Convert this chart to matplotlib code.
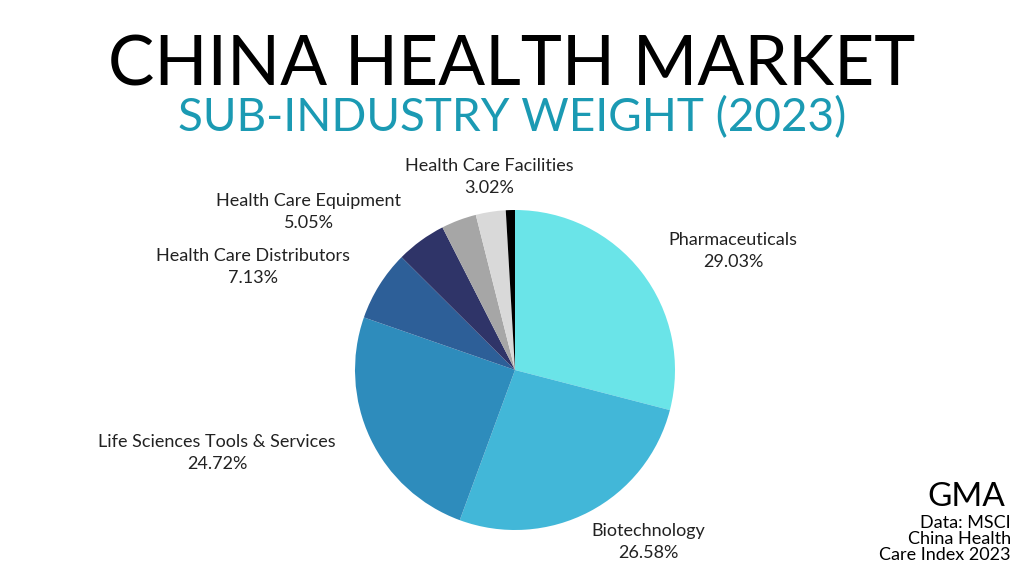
import matplotlib.pyplot as plt

labels = ["Pharmaceuticals", "Biotechnology", "Life Sciences Tools & Services",
          "Health Care Distributors", "Health Care Equipment", "Other",
          "Health Care Facilities", "Other 2"]
values = [29.03, 26.58, 24.72, 7.13, 5.05, 3.55, 3.02, 0.92]
colors = ["#6ae4e8", "#42b7d8", "#2e8cbc", "#2d5f98", "#2f3468",
          "#a6a6a6", "#d9d9d9", "#000000"]
show_label = [True, True, True, True, True, False, True, False]

fig = plt.figure(figsize=(10.24, 5.76), dpi=100)
fig.patch.set_facecolor("white")

fig.text(0.5, 0.885, "CHINA HEALTH MARKET", ha="center", va="center",
         fontsize=50, family="Lato", fontweight="normal", color="black")
fig.text(0.5, 0.795, "SUB-INDUSTRY WEIGHT (2023)", ha="center", va="center",
         fontsize=33, family="Lato", color="#1b9ab3")

# pie center ~ (515, 370) px, radius ~160 px
ax = fig.add_axes([(515 - 160) / 1024, (576 - 370 - 160) / 576,
                   320 / 1024, 320 / 576])
ax.pie(values, colors=colors, startangle=90, counterclock=False,
       wedgeprops=dict(linewidth=0))
ax.set_xlim(-1, 1)
ax.set_ylim(-1, 1)
ax.set_aspect("equal")

# label centers in figure pixels
label_pos = {
    "Pharmaceuticals": (733, 251),
    "Biotechnology": (648, 542),
    "Life Sciences Tools & Services": (217, 453),
    "Health Care Distributors": (253, 267),
    "Health Care Equipment": (309, 212),
    "Health Care Facilities": (489, 177),
}
for lab, val, show in zip(labels, values, show_label):
    if not show:
        continue
    x, y = label_pos[lab]
    fig.text(x / 1024, 1 - y / 576, f"{lab}\n{val:.2f}%", ha="center", va="center",
             fontsize=13, family="Lato", linespacing=1.45, color="#222222")

fig.text(0.982, 0.138, "GMA", ha="right", va="center", fontsize=24,
         family="Lato", color="black")
fig.text(0.987, 0.065, "Data: MSCI\nChina Health\nCare Index 2023", ha="right",
         va="center", fontsize=13, family="Lato", linespacing=1.0)

fig.savefig("out.png", dpi=100)
